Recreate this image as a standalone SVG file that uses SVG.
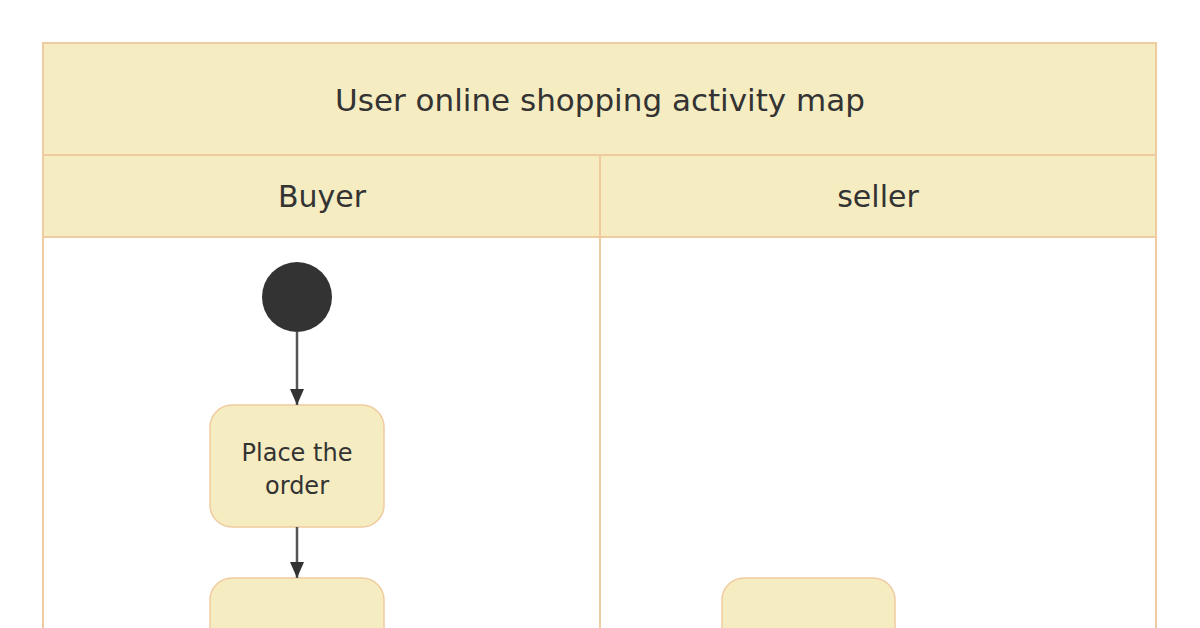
<svg xmlns="http://www.w3.org/2000/svg" width="1200" height="628" viewBox="0 0 1200 628">
<defs>
<style>
.hdr{fill:#f6ecc1;stroke:#efcc9f;stroke-width:2}
.lane{fill:#ffffff;stroke:#efcc9f;stroke-width:2}
.node{fill:#f6ecc1;stroke:#efcc9f;stroke-width:1.5}
.t{font-family:"DejaVu Sans","Noto Sans",sans-serif;fill:#333333;text-anchor:middle}
.conn{stroke:#555555;stroke-width:2.5;fill:none}
</style>
<marker id="arr" viewBox="0 0 16 14" refX="16" refY="7" markerWidth="16" markerHeight="14" markerUnits="userSpaceOnUse" orient="auto">
<path d="M0,0 L16,7 L0,14 z" fill="#333333"/>
</marker>
</defs>
<rect width="1200" height="628" fill="#ffffff"/>
<g id="pool">
<rect class="lane" x="43" y="43" width="1113" height="600"/>
<rect class="hdr" x="43" y="43" width="1113" height="112"/>
<text class="t" x="600" y="111" font-size="31">User online shopping activity map</text>
</g>
<g id="lane-buyer">
<rect class="hdr" x="43" y="155" width="557" height="82"/>
<rect class="lane" x="43" y="237" width="557" height="406"/>
<text class="t" x="322" y="207" font-size="30">Buyer</text>
</g>
<g id="lane-seller">
<rect class="hdr" x="600" y="155" width="556" height="82"/>
<rect class="lane" x="600" y="237" width="556" height="406"/>
<text class="t" x="878" y="207" font-size="30">seller</text>
</g>
<g id="start">
<circle cx="297" cy="297" r="35" fill="#333333"/>
</g>
<g id="place-order">
<rect class="node" x="210" y="405" width="174" height="122" rx="22"/>
<text class="t" x="297" y="461" font-size="24">Place the</text>
<text class="t" x="297" y="494" font-size="24">order</text>
</g>
<g id="buyer-next">
<rect class="node" x="210" y="578" width="174" height="122" rx="22"/>
</g>
<g id="seller-node">
<rect class="node" x="722" y="578" width="173" height="122" rx="22"/>
</g>
<g id="connectors">
<line class="conn" x1="297" y1="332" x2="297" y2="405" marker-end="url(#arr)"/>
<line class="conn" x1="297" y1="527" x2="297" y2="578" marker-end="url(#arr)"/>
</g>
</svg>
